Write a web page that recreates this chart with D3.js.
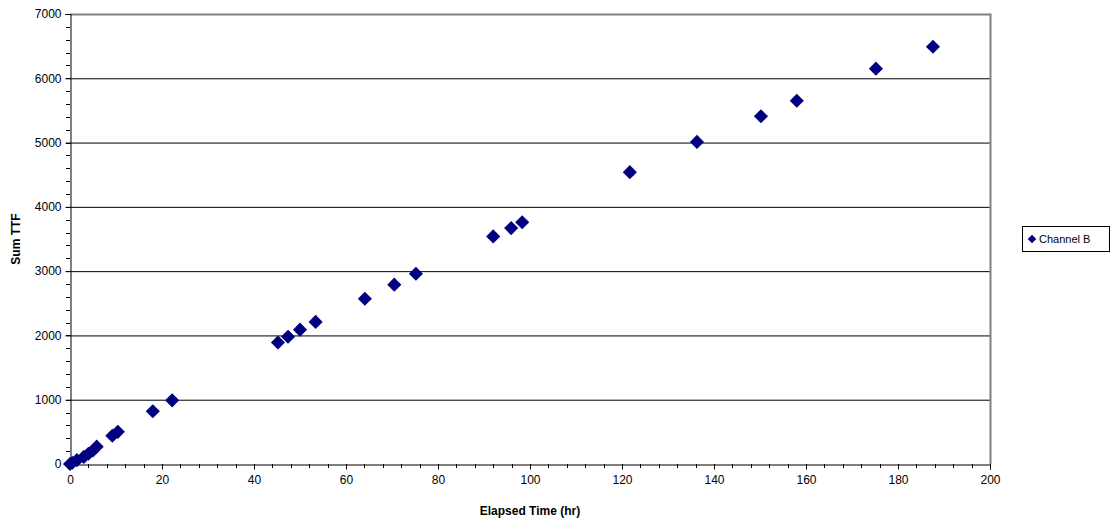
<!DOCTYPE html>
<html><head><meta charset="utf-8">
<script src="https://cdn.jsdelivr.net/npm/d3@7"></script>
<style>body{margin:0;background:#fff;font-family:"Liberation Sans",Arial,sans-serif;}</style>
</head><body>
<svg id="c" width="1114" height="527"></svg>
<script>
const seriesName = "Channel B";
const elapsedHr = [0, 0.5, 1.5, 3, 4, 5, 5.8, 9.2, 10.4, 18.0, 22.2, 45.2, 47.4, 50.0, 53.4, 64.1, 70.5, 75.2, 92.0, 95.9, 98.3, 121.7, 136.3, 150.2, 158.0, 175.2, 187.6];
const sumTTF =    [0, 20, 60, 110, 160, 210, 270, 440, 500, 820, 990, 1890, 1980, 2090, 2210, 2570, 2790, 2960, 3540, 3670, 3760, 4540, 5010, 5410, 5650, 6150, 6490];
const xTicks = [0,20,40,60,80,100,120,140,160,180,200];
const yTicks = [0,1000,2000,3000,4000,5000,6000,7000];

const svg = d3.select("#c");
const L=70, R=990, T=14, B=464;
const x = d3.scaleLinear().domain([0,200]).range([L,R]);
const y = d3.scaleLinear().domain([0,7000]).range([B,T]);

// gridlines
svg.append("g").selectAll("line").data(yTicks.slice(1,-1)).join("line")
  .attr("x1",L).attr("x2",R).attr("y1",d=>y(d)+0.5).attr("y2",d=>y(d)+0.5)
  .attr("stroke","#000").attr("stroke-width",1);
// top and right border
svg.append("path").attr("d",`M${L},${T+0.5}H${R+0.5}V${B}`).attr("fill","none").attr("stroke","#808080").attr("stroke-width",2);

// y axis
const ya = svg.append("g").attr("transform",`translate(${L+0.5},0)`)
  .call(d3.axisLeft(y).tickValues(yTicks).tickFormat(d3.format("d")).tickSize(5).tickPadding(4));
const yMinor = d3.range(0,7001,200);
svg.append("g").selectAll("line").data(yMinor).join("line")
  .attr("x1",L-4).attr("x2",L).attr("y1",d=>Math.round(y(d))+0.5).attr("y2",d=>Math.round(y(d))+0.5).attr("stroke","#000");
// x axis
const xa = svg.append("g").attr("transform",`translate(0,${B+0.5})`)
  .call(d3.axisBottom(x).tickValues(xTicks).tickFormat(d3.format("d")).tickSize(5).tickPadding(6));
const xMinor = d3.range(0,201,4);
svg.append("g").selectAll("line").data(xMinor).join("line")
  .attr("x1",d=>Math.round(x(d))+0.5).attr("x2",d=>Math.round(x(d))+0.5).attr("y1",B).attr("y2",B+4).attr("stroke","#000");
[ya,xa].forEach(a=>{
  a.select(".domain").attr("stroke","#000");
  a.selectAll("text").attr("font-family","Liberation Sans, Arial, sans-serif").attr("font-size",12).attr("fill","#000");
  a.selectAll(".tick line").attr("stroke","#000");
});

// points
const diamond = d3.symbol().type(d3.symbolDiamond2 || d3.symbolDiamond).size(100);
const pts = elapsedHr.map((v,i)=>[v,sumTTF[i]]);
svg.append("g").selectAll("path").data(pts).join("path")
  .attr("transform",d=>`translate(${x(d[0])},${y(d[1])})`)
  .attr("d",d3.symbol().type(d3.symbolSquare).size(100)())
  .attr("transform",d=>`translate(${x(d[0])},${y(d[1])}) rotate(45)`)
  .attr("fill","#000080");

// axis titles
svg.append("text").attr("x",(L+R)/2).attr("y",515).attr("text-anchor","middle")
  .attr("font-size",12).attr("font-weight","bold").text("Elapsed Time (hr)");
svg.append("text").attr("transform",`translate(20,${(T+B)/2}) rotate(-90)`).attr("text-anchor","middle")
  .attr("font-size",12).attr("font-weight","bold").text("Sum TTF");

// legend
const lg = svg.append("g").attr("transform","translate(1022,226)");
lg.append("rect").attr("x",0.5).attr("y",0.5).attr("width",87).attr("height",25).attr("fill","#fff").attr("stroke","#000");
lg.append("path").attr("d",d3.symbol().type(d3.symbolSquare).size(36)()).attr("transform","translate(10,13) rotate(45)").attr("fill","#000080");
lg.append("text").attr("x",17).attr("y",17).attr("font-size",11).text(seriesName);
</script>
</body></html>
